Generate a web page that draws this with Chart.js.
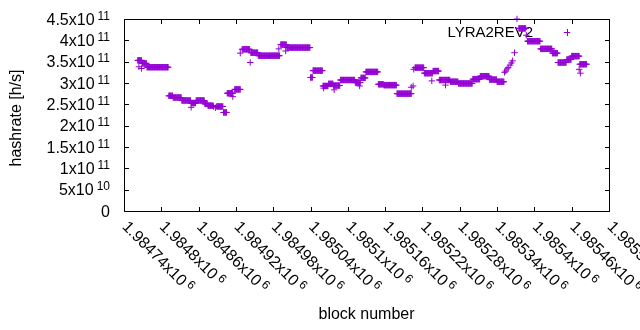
<!DOCTYPE html>
<html><head><meta charset="utf-8">
<script src="https://cdn.jsdelivr.net/npm/chart.js@4.4.1/dist/chart.umd.min.js"></script>
<style>html,body{margin:0;padding:0;background:#fff;}#wrap{width:640px;height:330px;position:relative;}</style>
</head><body><div id="wrap"><canvas id="c" width="640" height="330"></canvas></div>
<script>
// ---- data ----
const seriesName = 'LYRA2REV2';
const xTitle = 'block number';
const yTitle = 'hashrate [h/s]';
const xTicks = [1984740,1984800,1984860,1984920,1984980,1985040,1985100,1985160,1985220,1985280,1985340,1985400,1985460,1985520];
const xTickLabels = ['1.98474x10^6','1.9848x10^6','1.98486x10^6','1.98492x10^6','1.98498x10^6','1.98504x10^6','1.9851x10^6','1.98516x10^6','1.98522x10^6','1.98528x10^6','1.98534x10^6','1.9854x10^6','1.98546x10^6','1.98552x10^6'];
const yTicks = [0,5e10,1e11,1.5e11,2e11,2.5e11,3e11,3.5e11,4e11,4.5e11];
const yTickLabels = ['0','5x10^10','1x10^11','1.5x10^11','2x10^11','2.5x10^11','3x10^11','3.5x10^11','4x10^11','4.5x10^11'];
// runs of consecutive blocks sharing one hashrate value (x1e11 h/s)
const runStart = [1984762,1984769,1984777,1984812,1984819,1984833,1984848,1984856,1984870,1984875,1984889,1984900,1984906,1984918,1984930,1984944,1984956,1984992,1985002,1985040,1985044,1985060,1985069,1985077,1985088,1985112,1985121,1985129,1985149,1985158,1985179,1985208,1985223,1985237,1985247,1985265,1985278,1985301,1985313,1985328,1985340,1985375,1985389,1985410,1985429,1985438,1985452,1985460,1985473];
const runEnd   = [1984768,1984776,1984811,1984818,1984832,1984847,1984855,1984869,1984874,1984883,1984899,1984905,1984915,1984927,1984942,1984955,1984990,1985001,1985039,1985043,1985059,1985068,1985076,1985087,1985111,1985120,1985128,1985148,1985157,1985178,1985202,1985222,1985236,1985246,1985264,1985277,1985300,1985312,1985327,1985339,1985351,1985386,1985409,1985428,1985437,1985451,1985459,1985472,1985484];
const runValue = [3.53,3.46,3.37,2.70,2.66,2.59,2.53,2.59,2.51,2.47,2.45,2.31,2.76,2.85,3.79,3.71,3.64,3.90,3.83,3.13,3.29,2.93,2.98,2.94,3.07,3.01,3.12,3.26,2.97,2.95,2.75,3.36,3.23,3.28,3.07,3.03,2.99,3.09,3.16,3.08,3.03,4.28,3.98,3.80,3.70,3.48,3.55,3.63,3.44];
// isolated points (x1e11 h/s)
const extraBlock = [1984764,1984768,1984848,1984884,1984887,1984915,1984927,1984943,1984989,1985000,1985061,1985078,1985119,1985202,1985205,1985206,1985235,1985257,1985352,1985354,1985356,1985358,1985361,1985363,1985365,1985368,1985372,1985387,1985472,1985474];
const extraValue = [3.38,3.34,2.43,2.45,2.42,2.68,3.70,3.48,3.80,3.75,2.88,2.84,2.93,2.90,2.93,3.32,3.05,2.95,3.25,3.28,3.33,3.36,3.42,3.47,3.52,3.71,4.50,4.12,3.32,3.23];

const points = [];
runStart.forEach((s, i) => { for (let b = s; b <= runEnd[i]; b++) points.push({x: b, y: runValue[i] * 1e11}); });
extraBlock.forEach((b, i) => points.push({x: b, y: extraValue[i] * 1e11}));

// ---- style ----
const COLOR = '#9400d3';
const FONT = '"Liberation Sans", Arial, sans-serif';
const BASE = 16, SUP = 12;

function drawSup(ctx, label, x, y, align) {
  const parts = label.split('^');
  ctx.font = BASE + 'px ' + FONT;
  const w1 = ctx.measureText(parts[0]).width;
  let w2 = 0, gap = 0;
  if (parts[1]) { ctx.font = SUP + 'px ' + FONT; w2 = ctx.measureText(parts[1]).width; gap = 3; }
  let sx = align === 'right' ? x - (w1 + gap + w2) : x;
  ctx.textAlign = 'left';
  ctx.textBaseline = 'alphabetic';
  ctx.font = BASE + 'px ' + FONT;
  ctx.fillText(parts[0], sx, y);
  if (parts[1]) { ctx.font = SUP + 'px ' + FONT; ctx.fillText(parts[1], sx + w1 + gap, y - 5); }
}

const gnuplotFrame = {
  id: 'gnuplotFrame',
  beforeDatasetsDraw(chart) {
    const ctx = chart.ctx;
    ctx.save();
    ctx.fillStyle = '#000';
    ctx.font = '15px ' + FONT;
    ctx.textAlign = 'right';
    ctx.textBaseline = 'middle';
    ctx.fillText(seriesName, 533, 33);
    ctx.restore();
  },
  afterDatasetsDraw(chart) {
    const ctx = chart.ctx, a = chart.chartArea;
    const xs = chart.scales.x, ys = chart.scales.y;
    ctx.save();
    ctx.strokeStyle = '#000';
    ctx.lineWidth = 1;
    const L = Math.round(a.left) + 0.5, R = Math.round(a.right) + 0.5, T = Math.round(a.top) + 0.5, B = Math.round(a.bottom) + 0.5;
    ctx.beginPath();
    ctx.rect(L, T, R - L, B - T);
    const tl = 4.5;
    xTicks.forEach(v => {
      const px = Math.round(xs.getPixelForValue(v)) + 0.5;
      ctx.moveTo(px, B); ctx.lineTo(px, B - tl);
      ctx.moveTo(px, T); ctx.lineTo(px, T + tl);
    });
    yTicks.forEach(v => {
      const py = Math.round(ys.getPixelForValue(v)) + 0.5;
      ctx.moveTo(L, py); ctx.lineTo(L + tl, py);
      ctx.moveTo(R, py); ctx.lineTo(R - tl, py);
    });
    ctx.stroke();
    ctx.fillStyle = '#000';
    yTicks.forEach((v, i) => {
      const py = ys.getPixelForValue(v);
      drawSup(ctx, yTickLabels[i], a.left - 14, py + 5.5, 'right');
    });
    xTicks.forEach((v, i) => {
      const px = xs.getPixelForValue(v);
      ctx.save();
      ctx.translate(px + 1, a.bottom + 13);
      ctx.rotate(Math.PI / 4);
      drawSup(ctx, xTickLabels[i], 0, 5, 'left');
      ctx.restore();
    });
    ctx.font = BASE + 'px ' + FONT;
    ctx.textAlign = 'center';
    ctx.textBaseline = 'middle';
    ctx.fillText(xTitle, (a.left + a.right) / 2, 315);
    ctx.save();
    ctx.translate(17, (a.top + a.bottom) / 2 + 3);
    ctx.rotate(-Math.PI / 2);
    ctx.fillText(yTitle, 0, 0);
    ctx.restore();
    // key sample
    ctx.strokeStyle = COLOR;
    ctx.beginPath();
    ctx.moveTo(563.8, 32.5); ctx.lineTo(570.2, 32.5);
    ctx.moveTo(567.5, 29); ctx.lineTo(567.5, 36);
    ctx.stroke();
    ctx.restore();
  }
};

new Chart(document.getElementById('c'), {
  type: 'scatter',
  data: { datasets: [{
    label: seriesName,
    data: points,
    pointStyle: 'cross',
    pointRadius: 3.2,
    pointHoverRadius: 3.2,
    borderColor: COLOR,
    backgroundColor: COLOR,
    borderWidth: 1,
    clip: false
  }]},
  options: {
    responsive: false,
    animation: false,
    devicePixelRatio: 1,
    layout: { autoPadding: false, padding: { left: 124, right: 31, top: 19, bottom: 119 } },
    plugins: { legend: { display: false }, tooltip: { enabled: false } },
    scales: {
      x: { type: 'linear', display: false, min: 1984740, max: 1985520 },
      y: { type: 'linear', display: false, min: 0, max: 4.5e11 }
    }
  },
  plugins: [gnuplotFrame]
});
</script>
</body></html>
